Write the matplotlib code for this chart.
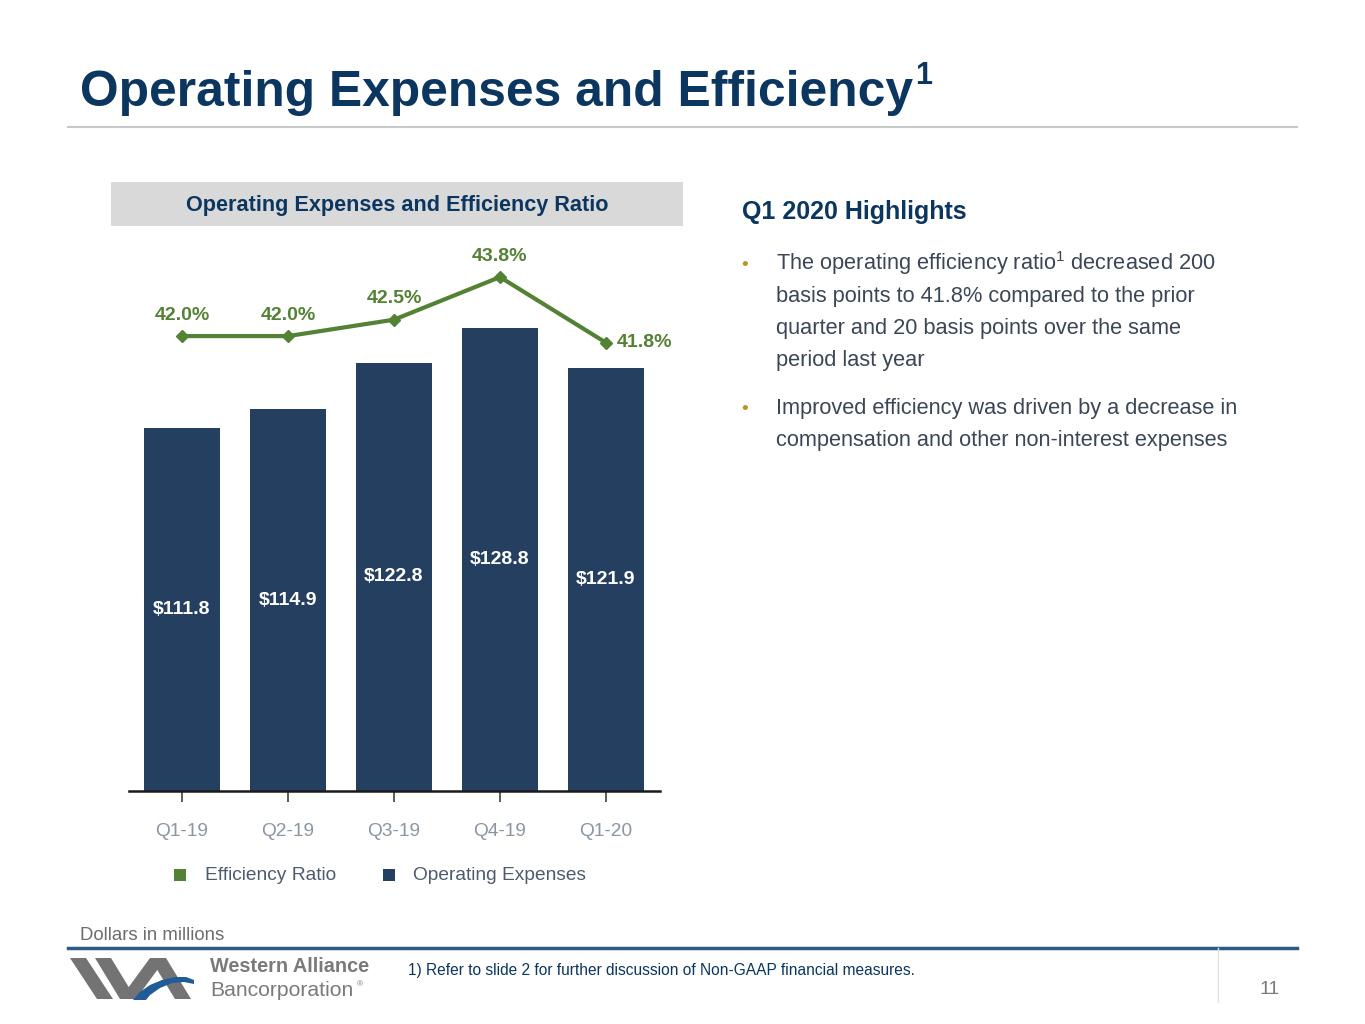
import matplotlib
matplotlib.use("Agg")
import matplotlib.pyplot as plt
from matplotlib.patches import Rectangle, Polygon

quarters = ["Q1-19", "Q2-19", "Q3-19", "Q4-19", "Q1-20"]
op_expenses = [111.8, 114.9, 122.8, 128.8, 121.9]
eff_ratio = [42.0, 42.0, 42.5, 43.8, 41.8]

bullets = [
    ["The operating efficiency ratio$^{1}$ decreased 200",
     "basis points to 41.8% compared to the prior",
     "quarter and 20 basis points over the same",
     "period last year"],
    ["Improved efficiency was driven by a decrease in",
     "compensation and other non-interest expenses"],
]

FONT = "Liberation Sans"
plt.rcParams["font.family"] = [FONT, "DejaVu Sans"]
plt.rcParams["mathtext.fontset"] = "custom"
plt.rcParams["mathtext.rm"] = FONT

NAVY = "#0b3660"
BAR = "#243f60"
GREEN = "#548235"

W, H = 1365, 1024
fig = plt.figure(figsize=(W / 100, H / 100), dpi=100)


def px(x, y):
    return x / W, 1 - y / H


# title
title = fig.text(*px(80, 106), "Operating Expenses and Efficiency", fontsize=35.8,
                 fontweight="bold", color=NAVY, va="baseline")
fig.canvas.draw()
bb = title.get_window_extent()
fig.text((bb.x1 + 2) / W, 1 - 84 / H, "1", fontsize=22, fontweight="bold",
         color=NAVY, va="baseline")
fig.add_artist(plt.Line2D([68 / W, 1297 / W], [1 - 127 / H] * 2, color="#c8c8c8", lw=1.5))

# chart header box
fig.add_artist(Rectangle(px(111, 226), 572 / W, 44 / H, color="#d9d9d9", lw=0))
fig.text(*px(397, 205), "Operating Expenses and Efficiency Ratio", fontsize=15.6,
         fontweight="bold", color=NAVY, ha="center", va="center")

# chart
left, right, top, bottom = 129, 660, 240, 791
ax = fig.add_axes([left / W, 1 - bottom / H, (right - left) / W, (bottom - top) / H])
x = list(range(len(quarters)))
ax.bar(x, op_expenses, width=0.717, color=BAR, zorder=2)
ax.set_xlim(-0.5, 4.51)
ax.set_ylim(50, 143.7)
for xi, v in zip(x, op_expenses):
    ax.text(xi, (v + 50) / 2, f"${v:.1f}", color="white", fontsize=14,
            fontweight="bold", ha="center", va="center")
ax.set_xticks(x)
ax.set_xticklabels(quarters, fontsize=13.8, color="#8a96a3")
ax.tick_params(axis="x", length=8, width=1.2, color="#404040", pad=15)
ax.set_yticks([])
for s in ["top", "left", "right"]:
    ax.spines[s].set_visible(False)
ax.spines["bottom"].set_linewidth(1.8)
ax.spines["bottom"].set_color("#1a1a1a")
ax.patch.set_alpha(0)

ax2 = ax.twinx()
ax2.set_ylim(28.13, 44.93)
ax2.plot(x, eff_ratio, color=GREEN, lw=3, marker="D", markersize=6, zorder=3)
ax2.set_yticks([])
for s in ax2.spines.values():
    s.set_visible(False)
for xi, v in zip(x, eff_ratio):
    if xi == len(x) - 1:
        ax2.annotate(f"{v:.1f}%", (xi, v), xytext=(8, 0), textcoords="offset points",
                     color=GREEN, fontsize=14, fontweight="bold", ha="left", va="center")
    else:
        ax2.annotate(f"{v:.1f}%", (xi, v), xytext=(0, 9), textcoords="offset points",
                     color=GREEN, fontsize=14, fontweight="bold", ha="center", va="bottom")

# legend
fig.add_artist(Rectangle(px(174, 881), 12 / W, 12 / H, color=GREEN, lw=0))
fig.text(*px(205, 876), "Efficiency Ratio", fontsize=13.8, color="#4d5b6e", va="center")
fig.add_artist(Rectangle(px(383, 881), 12 / W, 12 / H, color=BAR, lw=0))
fig.text(*px(413, 876), "Operating Expenses", fontsize=13.8, color="#4d5b6e", va="center")

# highlights
fig.text(*px(742, 219), "Q1 2020 Highlights", fontsize=18, fontweight="bold",
         color=NAVY, va="baseline")
y = 270
for block in bullets:
    fig.text(*px(741, y), "\u2022", fontsize=14, color="#b8962e", va="baseline")
    for line in block:
        fig.text(*px(776, y), line, fontsize=15.7, color="#3b4656", va="baseline")
        y += 32
    y += 16

# footer
fig.text(*px(80, 940), "Dollars in millions", fontsize=13.4, color="#6d6d6d", va="baseline")
fig.add_artist(plt.Line2D([68 / W, 1297 / W], [1 - 948 / H] * 2, color="#2e5a8a", lw=2.5))
fig.add_artist(plt.Line2D([1218 / W] * 2, [1 - 948 / H, 1 - 1002 / H], color="#e2e2da", lw=1))
fig.text(*px(1280, 994), "11", fontsize=14, color="#7a7a7a", ha="right", va="baseline")
fig.text(*px(408, 975), "1) Refer to slide 2 for further discussion of Non-GAAP financial measures.",
         fontsize=11.2, color=NAVY, va="baseline")

# logo
lg = fig.add_axes([65 / W, 1 - 1003 / H, 130 / W, 48 / H])
lg.set_xlim(65, 195)
lg.set_ylim(1003, 955)
lg.axis("off")
logo_gray = "#737373"
for pts in [
    [(70, 958), (86, 958), (113, 999), (97, 999)],
    [(95, 958), (111, 958), (136, 999), (120, 999)],
    [(120, 999), (136, 999), (166, 958), (150, 958)],
    [(150, 958), (166, 958), (191, 999), (175, 999)],
]:
    lg.add_patch(Polygon(pts, closed=True, color=logo_gray, lw=0))
lg.add_patch(Polygon([(133, 1000), (140, 992), (150, 985), (162, 980), (175, 977),
                      (186, 977), (194, 980), (194, 984), (184, 982), (172, 983),
                      (160, 988), (150, 995), (146, 1000)],
                     closed=True, color="#1f5c99", lw=0))
fig.text(*px(210, 972), "Western Alliance", fontsize=14.3, fontweight="bold",
         color="#7a7a7a", va="baseline")
fig.text(*px(210, 996), "Bancorporation", fontsize=15.2, color="#7a7a7a", va="baseline")
fig.text(*px(357, 986), "\u00ae", fontsize=6, color="#7a7a7a", va="baseline")

fig.savefig("out.png", dpi=100)
